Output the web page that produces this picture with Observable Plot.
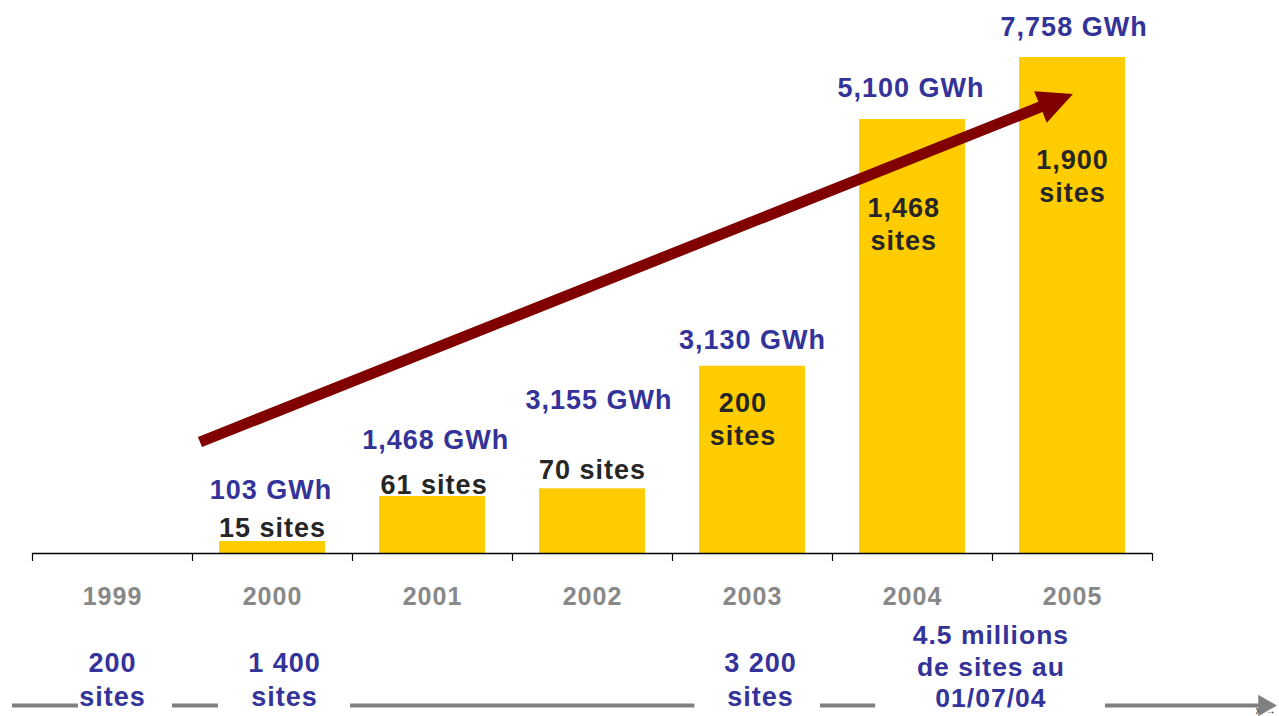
<!DOCTYPE html>
<html>
<head>
<meta charset="utf-8">
<script src="https://cdn.jsdelivr.net/npm/d3@7"></script>
<script src="https://cdn.jsdelivr.net/npm/@observablehq/plot@0.6"></script>
<style>
  html, body { margin: 0; padding: 0; background: #fff; overflow: hidden; }
  #chart svg { display: block; }
</style>
</head>
<body>
<div id="chart"></div>
<script>
// ---------- DATA ----------
const years = [1999, 2000, 2001, 2002, 2003, 2004, 2005];
// relative bar heights (2005 bar = 100)
const barHeight = [0, 2.42, 11.49, 13.04, 37.76, 87.5, 100];
const energyLabels = ["", "103 GWh", "1,468 GWh", "3,155 GWh", "3,130 GWh", "5,100 GWh", "7,758 GWh"];
const siteLabels = ["", "15 sites", "61 sites", "70 sites", "200\nsites", "1,468\nsites", "1,900\nsites"];
const milestoneLabels = ["200\nsites", "1 400\nsites", "3 200\nsites", "4.5 millions\nde sites au\n01/07/04"];
const milestoneYears = [1999, 2000.075, 2003.05, 2004.49];
const trendFrom = {x: 1999.55, y: 22.38};
const trendTo = {x: 2005.006, y: 92.54};

// ---------- LAYOUT (label anchors, in chart units) ----------
const energyLabelY = [0, 12.76, 22.9, 30.97, 43.06, 93.87, 106.0];
const energyLabelDx = [0, -0.01, 0.02, 0.04, 0, -0.01, 0.01];
const siteLabelY = [0, 5.37, 14.03, 17.06, 27.34, 66.55, 76.23];
const siteLabelDx = [0, 0, 0.01, 0, -0.06, -0.055, 0];
const yearBounds = d3.range(1998.5, 2006, 1);
const timelineSegments = [
  [1998.375, 1998.7875], [1999.375, 1999.6625], [2000.4875, 2002.64],
  [2003.425, 2003.77], [2005.206, 2006.19]
];

const bars = years.map((y, i) => ({year: y, h: barHeight[i]})).filter(d => d.h > 0);
const eLabels = years.map((y, i) => ({x: y + energyLabelDx[i], y: energyLabelY[i], t: energyLabels[i]})).filter(d => d.t);
const sLabels = years.map((y, i) => ({x: y + siteLabelDx[i], y: siteLabelY[i], t: siteLabels[i]})).filter(d => d.t);
const milestones = milestoneYears.map((x, i) => ({x, t: milestoneLabels[i]}));

const BLUE = "#333399", DARK = "#262626", GOLD = "#FFCC00", GRAY = "#808080", RED = "#800000";
const FS = 27;

function trendArrow(index, scales) {
  const sx = scales.x, sy = scales.y;
  const x0 = sx(trendFrom.x), y0 = sy(trendFrom.y), x1 = sx(trendTo.x), y1 = sy(trendTo.y);
  const dx = x1 - x0, dy = y1 - y0, L = Math.hypot(dx, dy);
  const ux = dx / L, uy = dy / L, nx = -uy, ny = ux;
  const w = 5.5, hl = 35, hw = 17;
  const bx = x1 - ux * hl, by = y1 - uy * hl;
  const pts = [
    [x0 + nx * w, y0 + ny * w], [bx + nx * w, by + ny * w], [bx + nx * hw, by + ny * hw],
    [x1, y1], [bx - nx * hw, by - ny * hw], [bx - nx * w, by - ny * w], [x0 - nx * w, y0 - ny * w]
  ];
  const g = document.createElementNS("http://www.w3.org/2000/svg", "polygon");
  g.setAttribute("points", pts.map(p => p.join(",")).join(" "));
  g.setAttribute("fill", RED);
  return g;
}

const chart = Plot.plot({
  width: 1279,
  height: 716,
  marginLeft: 32,
  marginRight: 127,
  marginTop: 57,
  marginBottom: 163,
  style: {fontFamily: "'Liberation Sans', Arial, sans-serif", letterSpacing: "1px", background: "#fff"},
  x: {domain: [1998.5, 2005.5]},
  y: {domain: [0, 100], axis: null},
  marks: [
    Plot.rectY(bars, {x1: d => d.year - 0.331, x2: d => d.year + 0.331, y: "h", fill: GOLD}),
    Plot.ruleY([0], {stroke: "#000", strokeWidth: 1.5}),
    Plot.axisX(yearBounds, {tickSize: 8, tickFormat: () => "", stroke: "#000", strokeWidth: 1.2}),
    Plot.text(years, {x: d => d, text: d => String(d), frameAnchor: "bottom", lineAnchor: "middle", dy: 43,
      fontSize: 25, fontWeight: "bold", fill: "#888"}),
    trendArrow,
    Plot.text(eLabels, {x: "x", y: "y", text: "t", fontSize: FS, fontWeight: "bold", fill: BLUE}),
    Plot.text(sLabels, {x: "x", y: "y", text: "t", fontSize: FS, fontWeight: "bold", fill: DARK, lineHeight: 1.22}),
    Plot.ruleY(timelineSegments, {x1: d => d[0], x2: d => d[1], y: 0, dy: 152, stroke: GRAY, strokeWidth: 4}),
    Plot.dot([2006.2], {x: d => d, y: 0, dy: 152, symbol: "triangle", rotate: 90, r: 8, fill: GRAY, stroke: null}),
    Plot.text(milestones.filter(d => d.t.split("\n").length === 2), {x: "x", text: "t", frameAnchor: "bottom", lineAnchor: "middle", dy: 125,
      fontSize: FS, fontWeight: "bold", fill: BLUE, lineHeight: 1.24}),
    Plot.text(milestones.filter(d => d.t.split("\n").length === 3), {x: "x", text: "t", frameAnchor: "bottom", lineAnchor: "middle", dy: 112,
      fontSize: 26.5, fontWeight: "bold", fill: BLUE, lineHeight: 1.2})
  ]
});
document.getElementById("chart").appendChild(chart);
</script>
</body>
</html>
